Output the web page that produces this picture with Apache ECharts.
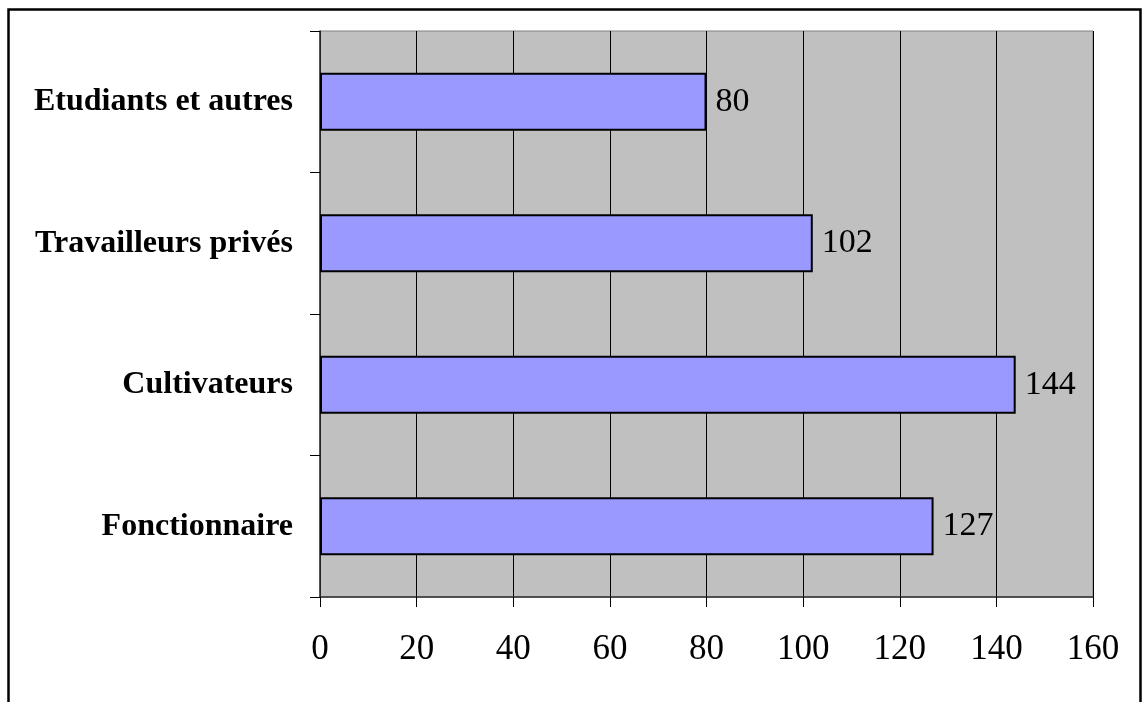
<!DOCTYPE html>
<html>
<head>
<meta charset="utf-8">
<script src="https://cdn.jsdelivr.net/npm/echarts@6/dist/echarts.min.js"></script>
<style>
  html, body { margin: 0; padding: 0; background: #ffffff; }
  #chart { width: 1144px; height: 702px; }
</style>
</head>
<body>
<div id="chart"></div>
<script>
// Professions, listed from the bottom of the axis upward
const categories = ['Fonctionnaire', 'Cultivateurs', 'Travailleurs privés', 'Etudiants et autres'];
const counts = [127, 144, 102, 80];
const xTicks = [0, 20, 40, 60, 80, 100, 120, 140, 160];

const chart = echarts.init(document.getElementById('chart'), null, { renderer: 'canvas' });

const serif = '"Liberation Serif", "Times New Roman", serif';

chart.setOption({
  animation: false,
  backgroundColor: '#ffffff',
  graphic: [{
    type: 'rect',
    shape: { x: 8.5, y: 9.5, width: 1132, height: 760 },
    style: { fill: 'none', stroke: '#000000', lineWidth: 2.5 },
    z: 100
  }],
  grid: {
    left: 320, top: 31, right: 51, bottom: 105,
    show: true,
    backgroundColor: '#c0c0c0',
    borderColor: '#808080',
    borderWidth: 1
  },
  xAxis: {
    type: 'value',
    min: xTicks[0],
    max: xTicks[xTicks.length - 1],
    interval: xTicks[1] - xTicks[0],
    axisLine: { show: true, lineStyle: { color: '#303030', width: 1.5 } },
    axisTick: { show: true, length: 10, lineStyle: { color: '#000000', width: 1 } },
    axisLabel: { color: '#000000', fontFamily: serif, fontSize: 35, margin: 35 },
    splitLine: { show: true, lineStyle: { color: '#000000', width: 1 } }
  },
  yAxis: {
    type: 'category',
    data: categories,
    axisLine: { show: true, lineStyle: { color: '#303030', width: 1.5 } },
    axisTick: { show: true, length: 10, lineStyle: { color: '#000000', width: 1 } },
    axisLabel: { color: '#000000', fontFamily: serif, fontSize: 32, fontWeight: 'bold', margin: 27 },
    splitLine: { show: false }
  },
  series: [{
    type: 'bar',
    data: counts,
    barWidth: 58,
    itemStyle: { color: '#9999ff', borderColor: '#000000', borderWidth: 2 },
    label: {
      show: true,
      position: 'right',
      distance: 9,
      color: '#000000',
      fontFamily: serif,
      fontSize: 34
    }
  }]
});
</script>
</body>
</html>
